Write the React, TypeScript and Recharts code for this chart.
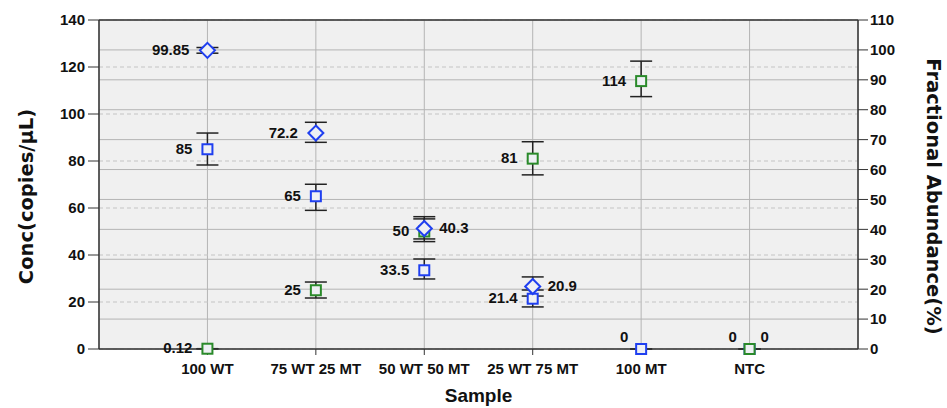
import React from 'react';
import {
  ComposedChart, Scatter, XAxis, YAxis, CartesianGrid, ErrorBar, ReferenceLine, Label
} from 'recharts';

const categories = ['100 WT', '75 WT 25 MT', '50 WT 50 MT', '25 WT 75 MT', '100 MT', 'NTC'];

// Conc (copies/µL), blue squares
const wtConc = [85, 65, 33.5, 21.4, 0, 0];
const wtConcLow = [78.3, 59, 29.8, 17.9, 0, 0];
const wtConcHigh = [91.9, 70.1, 38.3, 25.1, 0, 0];

// Conc (copies/µL), green squares
const mtConc = [0.12, 25, 50, 81, 114, 0];
const mtConcLow = [0.12, 21.7, 45.7, 74.1, 107.4, 0];
const mtConcHigh = [0.12, 28.5, 56.3, 88.2, 122.5, 0];

// Fractional abundance (%), blue diamonds
const wtFraction = [99.85, 72.2, 40.3, 20.9];
const wtFractionLow = [98.9, 69.1, 36.8, 17.7];
const wtFractionHigh = [100.8, 75.8, 43.5, 24.1];

const concTicks = [0, 20, 40, 60, 80, 100, 120, 140];
const fracTicks = [0, 10, 20, 30, 40, 50, 60, 70, 80, 90, 100, 110];
const xTicks = [1, 2, 3, 4, 5, 6];

const BLUE = '#1f3ff0';
const GREEN = '#2a8a2a';
const FONT = "'Liberation Sans', Arial, sans-serif";
const TITLE_FONT = "'DejaVu Sans', Verdana, sans-serif";

type Side = 'left' | 'right' | 'topLeft' | 'topRight';
const wtSides: Side[] = ['left', 'left', 'left', 'left', 'topLeft', 'topRight'];
const mtSides: Side[] = ['left', 'left', 'left', 'left', 'left', 'topLeft'];
const fracSides: Side[] = ['left', 'left', 'right', 'right'];

const toRows = (vals: number[], lo: number[], hi: number[]) =>
  vals.map((v, i) => ({ x: i + 1, y: v, err: [v - lo[i], hi[i] - v] }));

const makeShape = (kind: 'square' | 'diamond', color: string, sides: Side[]) => (props: any) => {
  const { cx, cy, payload } = props;
  if (cx == null || cy == null) return null;
  const side = sides[payload.x - 1];
  const gapL = kind === 'diamond' ? 18 : 15;
  let tx = cx - gapL, ty = cy - 1, anchor: 'start' | 'end' | 'middle' = 'end';
  if (side === 'right') { tx = cx + 15; anchor = 'start'; }
  if (side === 'topLeft') { tx = cx - 17; ty = cy - 13; anchor = 'middle'; }
  if (side === 'topRight') { tx = cx + 15; ty = cy - 13; anchor = 'middle'; }
  const h = 7.5;
  return (
    <g>
      {kind === 'square' ? (
        <rect x={cx - 5} y={cy - 5} width={10} height={10} fill="#eef0f4" stroke={color} strokeWidth={2} />
      ) : (
        <polygon
          points={`${cx},${cy - h} ${cx + h},${cy} ${cx},${cy + h} ${cx - h},${cy}`}
          fill="#eef0f4" stroke={color} strokeWidth={2}
        />
      )}
      <text x={tx} y={ty} textAnchor={anchor} dominantBaseline="central"
        fontFamily={FONT} fontSize={15} fontWeight={700} fill="#111">
        {String(payload.y)}
      </text>
    </g>
  );
};

const App: React.FC = () => {
  const wtRows = toRows(wtConc, wtConcLow, wtConcHigh);
  const mtRows = toRows(mtConc, mtConcLow, mtConcHigh);
  const fracRows = toRows(wtFraction, wtFractionLow, wtFractionHigh);
  const tickStyle = { fill: '#111', fontSize: 15, fontWeight: 700, fontFamily: FONT };

  return (
    <div style={{ width: 947, height: 408, background: '#fff' }}>
      <style>{'body{margin:0}'}</style>
      <ComposedChart width={947} height={408} margin={{ top: 20, right: 0, left: 0, bottom: 6 }}>
        <CartesianGrid yAxisId="r" fill="#f0f0f0" stroke="#b4b4b4" strokeWidth={1} />
        <CartesianGrid yAxisId="l" vertical={false} stroke="#c4c4c4" strokeDasharray="4 3" />
        <XAxis
          type="number" dataKey="x" domain={[0, 7]} ticks={xTicks} allowDecimals={false}
          tickFormatter={(v: number) => categories[v - 1] ?? ''}
          height={53} tickSize={6} tickMargin={8} tick={tickStyle}
          axisLine={{ stroke: '#333', strokeWidth: 1.5 }} tickLine={{ stroke: '#333' }}
        >
          <Label value="Sample" position="insideBottom" offset={0}
            style={{ fontSize: 19, fontWeight: 700, fontFamily: FONT, fill: '#111' }} />
        </XAxis>
        <YAxis
          yAxisId="l" type="number" dataKey="y" domain={[0, 140]} ticks={concTicks}
          width={99} tickSize={11} tickMargin={3} tick={tickStyle}
          axisLine={{ stroke: '#333', strokeWidth: 1.5 }} tickLine={{ stroke: '#333' }}
        >
          <Label value="Conc(copies/μL)" angle={-90} position="insideLeft" offset={26} dy={12}
            textAnchor="middle"
            style={{ fontSize: 19.5, fontWeight: 700, fontFamily: TITLE_FONT, fill: '#111', textAnchor: 'middle' }} />
        </YAxis>
        <YAxis
          yAxisId="r" orientation="right" type="number" dataKey="y" domain={[0, 110]} ticks={fracTicks}
          width={89} tickSize={10} tickMargin={2} tick={tickStyle}
          axisLine={{ stroke: '#333', strokeWidth: 1.5 }} tickLine={{ stroke: '#333' }}
        >
          <Label value="Fractional Abundance(%)" angle={90} position="insideRight" offset={13} dy={12}
            textAnchor="middle"
            style={{ fontSize: 19.5, fontWeight: 700, fontFamily: TITLE_FONT, fill: '#111', textAnchor: 'middle' }} />
        </YAxis>
        <ReferenceLine yAxisId="l" y={140} stroke="#333" strokeWidth={1.5} />

        <Scatter data={wtRows} dataKey="y" yAxisId="l" isAnimationActive={false}
          shape={makeShape('square', BLUE, wtSides)}>
          <ErrorBar dataKey="err" direction="y" width={11} stroke="#222" strokeWidth={1.5} />
        </Scatter>
        <Scatter data={mtRows} dataKey="y" yAxisId="l" isAnimationActive={false}
          shape={makeShape('square', GREEN, mtSides)}>
          <ErrorBar dataKey="err" direction="y" width={11} stroke="#222" strokeWidth={1.5} />
        </Scatter>
        <Scatter data={fracRows} dataKey="y" yAxisId="r" isAnimationActive={false}
          shape={makeShape('diamond', BLUE, fracSides)}>
          <ErrorBar dataKey="err" direction="y" width={11} stroke="#222" strokeWidth={1.5} />
        </Scatter>
      </ComposedChart>
    </div>
  );
};

export default App;
